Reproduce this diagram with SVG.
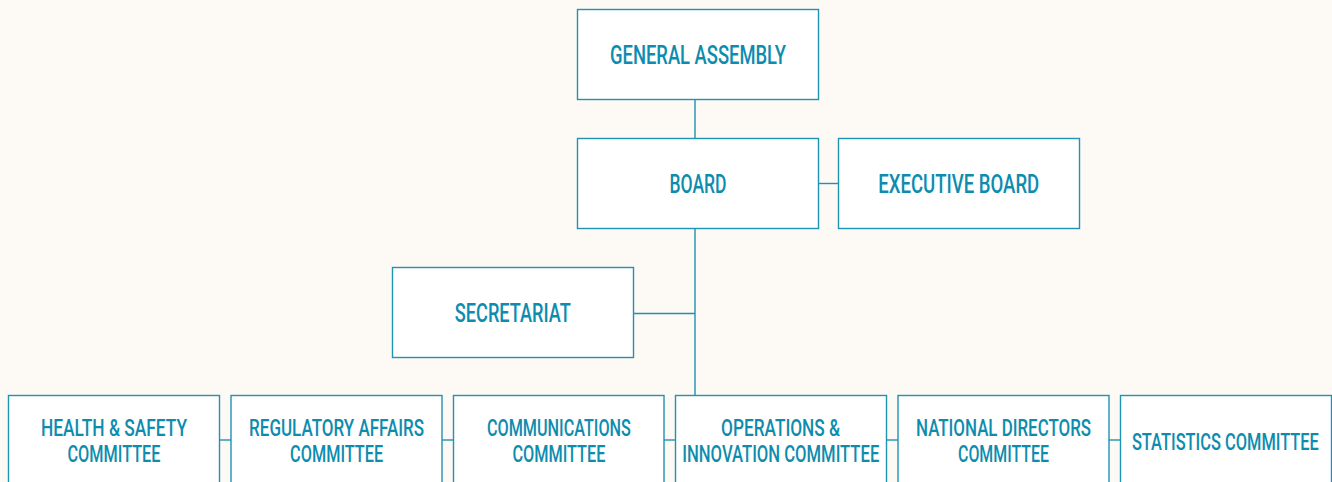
<svg xmlns="http://www.w3.org/2000/svg" width="1332" height="482" viewBox="0 0 1332 482">
<style>
.bg{fill:#fdf9f4}
.box{fill:#ffffff;stroke:#1f93b3;stroke-width:1.4}
.ln{stroke:#1f93b3;stroke-width:1.4;fill:none}
.t{font-family:Roboto,"Liberation Sans",sans-serif;fill:#0d8cae;text-anchor:middle;font-weight:500}
.tl{font-size:26px}
.ts{font-size:23px}
</style>
<rect class="bg" x="0" y="0" width="1332" height="482"/>
<g id="connectors">
<line class="ln" x1="695" y1="99.5" x2="695" y2="138.5"/>
<line class="ln" x1="818.5" y1="183.5" x2="838.5" y2="183.5"/>
<line class="ln" x1="695" y1="228.5" x2="695" y2="395.5"/>
<line class="ln" x1="633.5" y1="313.5" x2="695" y2="313.5"/>
<line class="ln" x1="219.5" y1="440" x2="231" y2="440"/>
<line class="ln" x1="442" y1="440" x2="453.5" y2="440"/>
<line class="ln" x1="664" y1="440" x2="675.5" y2="440"/>
<line class="ln" x1="886.5" y1="440" x2="898" y2="440"/>
<line class="ln" x1="1109" y1="440" x2="1120.5" y2="440"/>
</g>
<g id="general-assembly">
<rect class="box" x="577.5" y="9.5" width="241" height="90"/>
<text class="t tl" x="698" y="63.5" textLength="176" lengthAdjust="spacingAndGlyphs">GENERAL ASSEMBLY</text>
</g>
<g id="board">
<rect class="box" x="577.5" y="138.5" width="241" height="90"/>
<text class="t tl" x="698" y="193" textLength="57" lengthAdjust="spacingAndGlyphs">BOARD</text>
</g>
<g id="executive-board">
<rect class="box" x="838.5" y="138.5" width="241" height="90"/>
<text class="t tl" x="958.7" y="193" textLength="161" lengthAdjust="spacingAndGlyphs">EXECUTIVE BOARD</text>
</g>
<g id="secretariat">
<rect class="box" x="392.5" y="267.5" width="241" height="90"/>
<text class="t tl" x="512.8" y="322.3" textLength="116" lengthAdjust="spacingAndGlyphs">SECRETARIAT</text>
</g>
<g id="health-safety">
<rect class="box" x="8.5" y="395.5" width="211" height="100"/>
<text class="t ts" x="114" y="436" textLength="146" lengthAdjust="spacingAndGlyphs">HEALTH &amp; SAFETY</text>
<text class="t ts" x="114" y="461.7" textLength="93" lengthAdjust="spacingAndGlyphs">COMMITTEE</text>
</g>
<g id="regulatory-affairs">
<rect class="box" x="231" y="395.5" width="211" height="100"/>
<text class="t ts" x="336.6" y="436" textLength="175" lengthAdjust="spacingAndGlyphs">REGULATORY AFFAIRS</text>
<text class="t ts" x="336.6" y="461.7" textLength="93" lengthAdjust="spacingAndGlyphs">COMMITTEE</text>
</g>
<g id="communications">
<rect class="box" x="453.5" y="395.5" width="210.5" height="100"/>
<text class="t ts" x="558.9" y="436" textLength="144" lengthAdjust="spacingAndGlyphs">COMMUNICATIONS</text>
<text class="t ts" x="558.9" y="461.7" textLength="93" lengthAdjust="spacingAndGlyphs">COMMITTEE</text>
</g>
<g id="operations-innovation">
<rect class="box" x="675.5" y="395.5" width="211" height="100"/>
<text class="t ts" x="780.6" y="436" textLength="119" lengthAdjust="spacingAndGlyphs">OPERATIONS &amp;</text>
<text class="t ts" x="780.8" y="461.7" textLength="197" lengthAdjust="spacingAndGlyphs">INNOVATION COMMITTEE</text>
</g>
<g id="national-directors">
<rect class="box" x="898" y="395.5" width="211" height="100"/>
<text class="t ts" x="1003.5" y="436" textLength="175" lengthAdjust="spacingAndGlyphs">NATIONAL DIRECTORS</text>
<text class="t ts" x="1003.5" y="461.7" textLength="91" lengthAdjust="spacingAndGlyphs">COMMITTEE</text>
</g>
<g id="statistics">
<rect class="box" x="1120.5" y="395.5" width="211" height="100"/>
<text class="t ts" x="1225.4" y="450" textLength="187" lengthAdjust="spacingAndGlyphs">STATISTICS COMMITTEE</text>
</g>
</svg>
